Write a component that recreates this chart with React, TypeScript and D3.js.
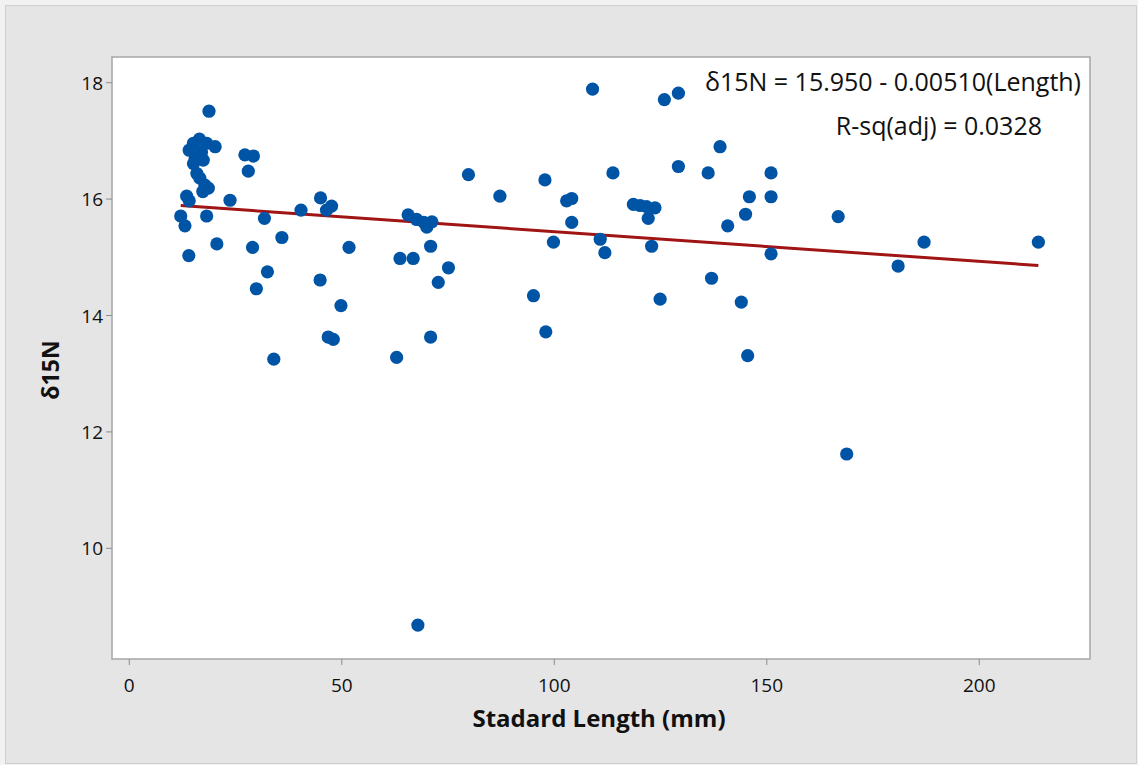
import React from "react";
import * as d3 from "d3";

const lengthMm: number[] = [
  18.75, 16.5, 15.1, 18.2, 20.2, 14.1, 17.0, 15.5, 17.4, 15.1, 15.9, 16.6, 17.8, 18.6, 17.3, 13.5, 14.1,
  23.7, 27.2, 29.2, 28.0, 12.1, 13.1, 18.2, 31.8, 40.4, 35.9, 20.6, 29.0, 14.0, 32.5, 29.9, 34.0,
  45.0, 46.4, 47.6, 51.7, 44.9, 49.8, 46.8, 48.0, 62.9, 65.6, 67.6, 69.3, 70.0, 71.2, 70.9, 63.7,
  66.8, 75.1, 72.7, 70.9, 67.9, 79.8, 87.2, 97.8, 95.1, 98.0, 99.8, 102.9, 104.1, 104.1, 109.0,
  113.8, 118.6, 120.2, 121.7, 123.7, 122.1, 122.9, 124.9, 110.8, 111.9, 125.9, 129.2, 129.2,
  139.0, 136.2, 151.0, 145.9, 151.0, 145.0, 140.8, 151.0, 137.0, 144.0, 145.5, 166.8, 168.8,
  187.0, 180.9, 213.9,
];
const d15N: number[] = [
  17.51, 17.03, 16.96, 16.96, 16.9, 16.84, 16.81, 16.7, 16.67, 16.61, 16.44, 16.36, 16.24, 16.19, 16.13, 16.05, 15.97,
  15.98, 16.76, 16.74, 16.48, 15.71, 15.54, 15.71, 15.67, 15.81, 15.34, 15.23, 15.17, 15.03, 14.75, 14.46, 13.25,
  16.02, 15.81, 15.88, 15.17, 14.61, 14.17, 13.63, 13.59, 13.28, 15.73, 15.65, 15.6, 15.52, 15.61, 15.19, 14.98,
  14.98, 14.82, 14.57, 13.63, 8.68, 16.42, 16.05, 16.33, 14.34, 13.72, 15.26, 15.97, 16.01, 15.6, 17.89,
  16.45, 15.91, 15.89, 15.87, 15.85, 15.67, 15.19, 14.28, 15.31, 15.08, 17.71, 17.82, 16.56,
  16.9, 16.45, 16.45, 16.04, 16.04, 15.74, 15.54, 15.06, 14.64, 14.23, 13.31, 15.7, 11.62,
  15.26, 14.85, 15.26,
];
const xTicks: number[] = [0, 50, 100, 150, 200];
const yTicks: number[] = [10, 12, 14, 16, 18];
const intercept = 15.95;
const slope = -0.0051;
const equationText = "δ15N = 15.950 - 0.00510(Length)";
const rsqText = "R-sq(adj) = 0.0328";
const xTitle = "Stadard Length (mm)";
const yTitle = "δ15N";

const W = 1138;
const H = 765;
const plot = { left: 112, top: 57, right: 1090, bottom: 659 };
const FONT = "'Open Sans', 'Noto Sans', sans-serif";

export default function App() {
  const x = d3.scaleLinear().domain([0, 200]).range([129.3, 979.3]);
  const y = d3.scaleLinear().domain([10, 18]).range([548.3, 82.7]);
  const pts = lengthMm.map((v, i) => ({ x: v, y: d15N[i] }));
  const xMin = d3.min(lengthMm) as number;
  const xMax = d3.max(lengthMm) as number;
  const line = d3
    .line<number>()
    .x((d) => x(d))
    .y((d) => y(intercept + slope * d));
  const tickColor = "#8c8c8c";
  return (
    <svg
      width={W}
      height={H}
      style={{ position: "absolute", left: 0, top: 0, display: "block" }}
      fontFamily={FONT}
    >
      <rect x={0} y={0} width={W} height={H} fill="#f2f2f2" />
      <rect x={5.5} y={5.5} width={W - 7} height={H - 7} fill="#e5e5e5" stroke="#cfcfcf" />
      <rect
        x={plot.left}
        y={plot.top}
        width={plot.right - plot.left}
        height={plot.bottom - plot.top}
        fill="#ffffff"
        stroke="#a6a6a6"
        strokeWidth={1.5}
      />
      {xTicks.map((t) => (
        <g key={"x" + t}>
          <line x1={x(t)} x2={x(t)} y1={plot.bottom} y2={plot.bottom + 6} stroke={tickColor} />
          <text x={x(t)} y={692} textAnchor="middle" fontSize={19} fill="#111111">
            {t}
          </text>
        </g>
      ))}
      {yTicks.map((t) => (
        <g key={"y" + t}>
          <line x1={plot.left - 6} x2={plot.left} y1={y(t)} y2={y(t)} stroke={tickColor} />
          <text x={plot.left - 9} y={y(t) + 7} textAnchor="end" fontSize={19} fill="#111111">
            {t}
          </text>
        </g>
      ))}
      <path d={line([xMin, xMax]) || ""} stroke="#a01414" strokeWidth={3} fill="none" />
      {pts.map((p, i) => (
        <circle key={i} cx={x(p.x)} cy={y(p.y)} r={6.6} fill="#0054a6" />
      ))}
      <text x={1081} y={91} textAnchor="end" fontSize={25} fill="#111111">
        {equationText}
      </text>
      <text x={1042} y={135} textAnchor="end" fontSize={25} fill="#111111">
        {rsqText}
      </text>
      <text x={599} y={727} textAnchor="middle" fontSize={24} fontWeight="bold" fill="#111111">
        {xTitle}
      </text>
      <text
        transform={`translate(59,370) rotate(-90)`}
        textAnchor="middle"
        fontSize={23}
        fontWeight="bold"
        fill="#111111"
      >
        {yTitle}
      </text>
    </svg>
  );
}
